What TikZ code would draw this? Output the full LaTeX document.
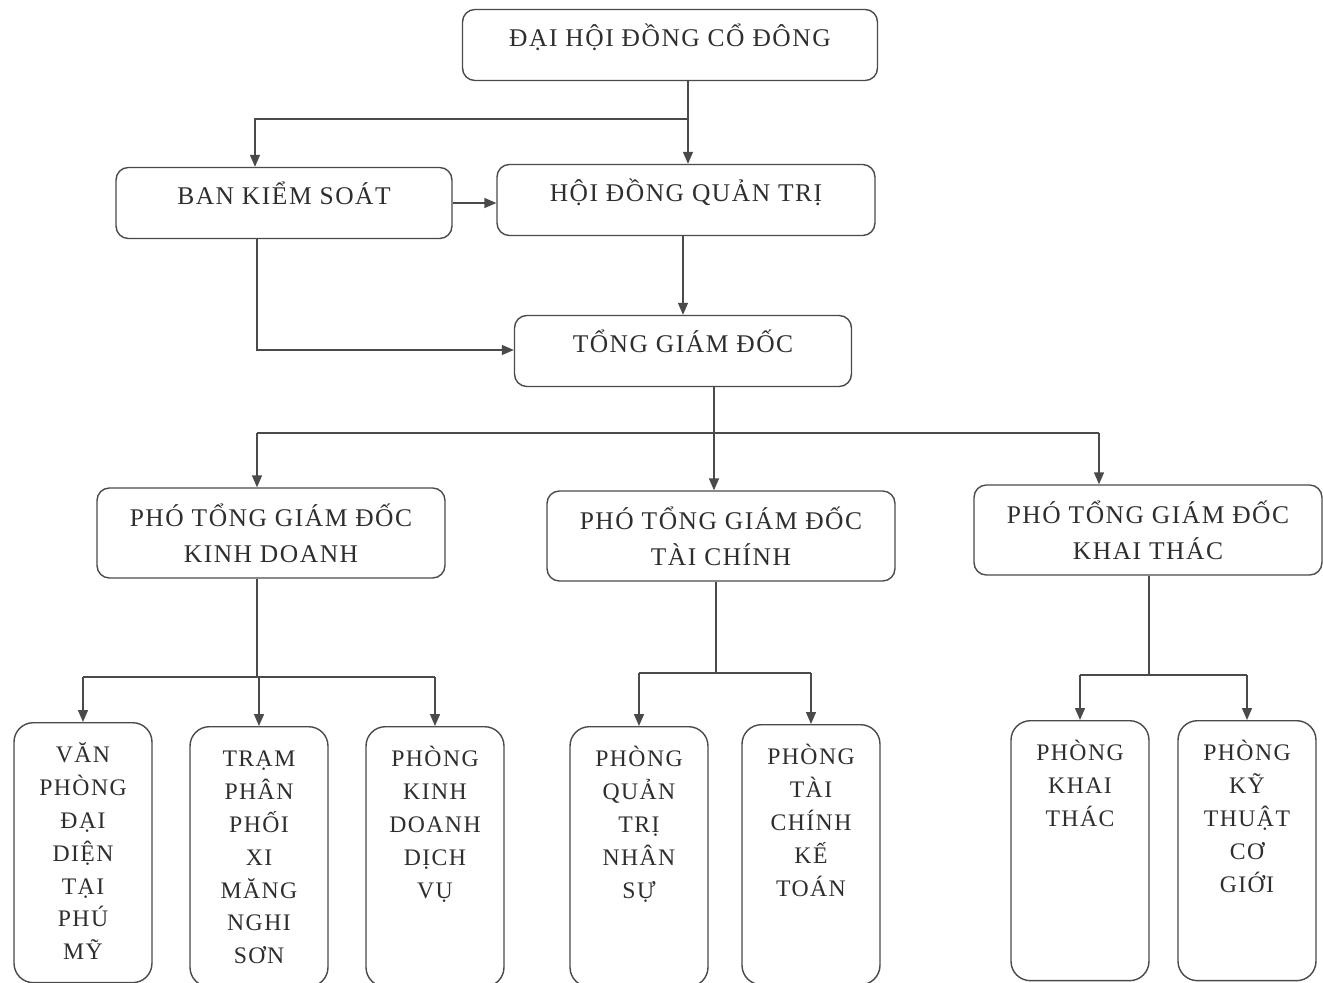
\documentclass[tikz,border=0pt]{standalone}
\usepackage{fontspec}
\setmainfont{Liberation Serif}[LetterSpace=6]
\usetikzlibrary{arrows.meta}
\definecolor{ink}{HTML}{2E2E2E}
\definecolor{edge}{HTML}{4A4A4A}
\tikzset{
  unit/.style={draw=edge,fill=white,rounded corners=7pt,line width=0.8pt,align=center,
    text=ink,font=\fontsize{14.5}{20.4}\selectfont,minimum height=1.42cm,inner sep=2pt},
  head/.style={unit,text height=0.4cm,text depth=0.34cm},
  deputy/.style={unit,minimum height=1.8cm,minimum width=6.96cm},
  dept/.style={draw=edge,fill=white,rounded corners=11pt,line width=0.8pt,text=ink,
    anchor=north,inner sep=0pt,font=\fontsize{13.5}{18.7}\selectfont},
  link/.style={line width=0.8pt,draw=edge},
  flow/.style={link,-{Triangle[length=2.4mm,width=2mm]}}
}
\newcommand{\deptbox}[1]{\parbox[t][5.2cm][t]{2.76cm}{\centering\rule{0pt}{0.8cm}#1}}
\begin{document}
\begin{tikzpicture}[x=0.02cm,y=-0.02cm]
  \useasboundingbox (0,0) rectangle (1323,983);
  % upper levels
  \node[head,minimum width=8.3cm] (dh) at (670,45) {ĐẠI HỘI ĐỒNG CỔ ĐÔNG};
  \node[head,minimum width=6.72cm] (bk) at (284,203) {BAN KIỂM SOÁT};
  \node[head,minimum width=7.56cm] (hd) at (686,200) {HỘI ĐỒNG QUẢN TRỊ};
  \node[head,minimum width=6.74cm] (tg) at (683,351) {TỔNG GIÁM ĐỐC};
  \node[deputy] (p1) at (271,533) {PHÓ TỔNG GIÁM ĐỐC\\KINH DOANH};
  \node[deputy] (p2) at (721,536) {PHÓ TỔNG GIÁM ĐỐC\\TÀI CHÍNH};
  \node[deputy] (p3) at (1148,530) {PHÓ TỔNG GIÁM ĐỐC\\KHAI THÁC};
  % departments
  \node[dept] (b1) at (83,722) {\deptbox{VĂN\\PHÒNG\\ĐẠI\\DIỆN\\TẠI\\PHÚ\\MỸ}};
  \node[dept] (b2) at (259,726) {\deptbox{TRẠM\\PHÂN\\PHỐI\\XI\\MĂNG\\NGHI\\SƠN}};
  \node[dept] (b3) at (435,726) {\deptbox{PHÒNG\\KINH\\DOANH\\DỊCH\\VỤ}};
  \node[dept] (b4) at (639,726) {\deptbox{PHÒNG\\QUẢN\\TRỊ\\NHÂN\\SỰ}};
  \node[dept] (b5) at (811,724) {\deptbox{PHÒNG\\TÀI\\CHÍNH\\KẾ\\TOÁN}};
  \node[dept] (b6) at (1080,720) {\deptbox{PHÒNG\\KHAI\\THÁC}};
  \node[dept] (b7) at (1247,720) {\deptbox{PHÒNG\\KỸ\\THUẬT\\CƠ\\GIỚI}};
  % junctions
  \coordinate (a1) at (688,119);
  \coordinate (a2) at (255,119);
  \coordinate (a3) at (257,350);
  \coordinate (a4) at (714,433);
  \coordinate (a5) at (257,433);
  \coordinate (a6) at (1099,433);
  \coordinate (k1) at (257,677);
  \coordinate (k2) at (716,673);
  \coordinate (k3) at (1149,675);
  % connectors
  \draw[flow] (dh.south -| a1) -- (a1 |- hd.north);
  \draw[flow] (a1) -- (a2) -- (a2 |- bk.north);
  \draw[flow] (bk.east) -- (hd.west |- bk.east);
  \draw[flow] (hd.south -| tg.north) -- (tg.north);
  \draw[flow] (bk.south -| a3) -- (a3) -- (a3 -| tg.west);
  \draw[link] (tg.south -| a4) -- (a4);
  \draw[link] (a5) -- (a6);
  \draw[flow] (a4) -- (a4 |- p2.north);
  \draw[flow] (a5) -- (a5 |- p1.north);
  \draw[flow] (a6) -- (a6 |- p3.north);
  \draw[link] (p1.south -| k1) -- (k1);
  \draw[link] (k1 -| b1.north) -- (k1 -| b3.north);
  \draw[link] (p2.south -| k2) -- (k2);
  \draw[link] (k2 -| b4.north) -- (k2 -| b5.north);
  \draw[link] (p3.south -| k3) -- (k3);
  \draw[link] (k3 -| b6.north) -- (k3 -| b7.north);
  \foreach \b in {b1,b2,b3} \draw[flow] (k1 -| \b.north) -- (\b.north);
  \foreach \b in {b4,b5} \draw[flow] (k2 -| \b.north) -- (\b.north);
  \foreach \b in {b6,b7} \draw[flow] (k3 -| \b.north) -- (\b.north);
\end{tikzpicture}
\end{document}
